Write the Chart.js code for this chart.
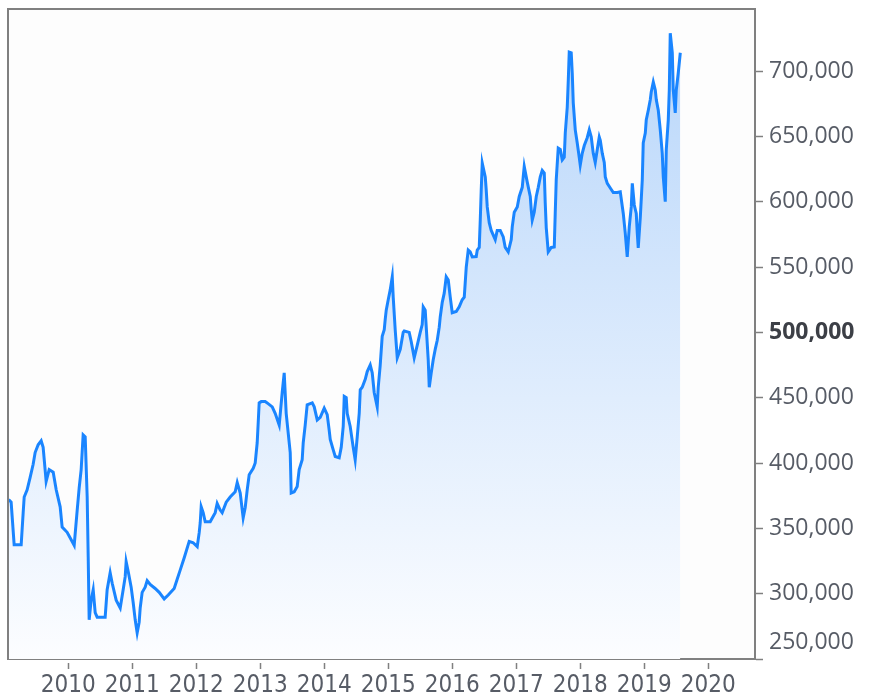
<!DOCTYPE html>
<html>
<head>
<meta charset="utf-8">
<script src="https://cdn.jsdelivr.net/npm/chart.js@4.4.1/dist/chart.umd.min.js"></script>
<style>
html,body{margin:0;padding:0;background:#ffffff;}
#wrap{width:869px;height:696px;position:relative;}
</style>
</head>
<body>
<div id="wrap"><canvas id="c"></canvas></div>
<script>
// decimal-year dates of the traced series
const dates = [
2009.070,2009.109,2009.125,2009.156,2009.266,2009.297,2009.313,2009.359,2009.406,2009.453,
2009.484,2009.531,2009.578,2009.609,2009.656,2009.703,2009.766,2009.813,2009.875,2009.906,
2009.984,2010.094,2010.141,2010.172,2010.203,2010.234,2010.266,2010.297,2010.313,2010.328,
2010.359,2010.391,2010.422,2010.453,2010.578,2010.609,2010.656,2010.688,2010.750,2010.813,
2010.859,2010.891,2010.906,2010.938,2010.984,2011.016,2011.047,2011.078,2011.109,2011.125,
2011.156,2011.203,2011.234,2011.281,2011.359,2011.422,2011.500,2011.563,2011.656,2011.703,
2011.750,2011.813,2011.891,2011.953,2012.016,2012.047,2012.063,2012.078,2012.109,2012.141,
2012.219,2012.297,2012.328,2012.375,2012.406,2012.469,2012.531,2012.609,2012.641,2012.688,
2012.734,2012.766,2012.797,2012.828,2012.891,2012.922,2012.953,2012.969,2012.984,2013.016,
2013.078,2013.109,2013.188,2013.234,2013.297,2013.344,2013.375,2013.406,2013.469,2013.484,
2013.531,2013.578,2013.609,2013.656,2013.672,2013.703,2013.734,2013.813,2013.844,2013.891,
2013.938,2014.000,2014.047,2014.078,2014.094,2014.141,2014.172,2014.234,2014.266,2014.297,
2014.313,2014.344,2014.359,2014.406,2014.453,2014.484,2014.516,2014.547,2014.563,2014.594,
2014.641,2014.672,2014.719,2014.750,2014.781,2014.828,2014.844,2014.875,2014.906,2014.938,
2014.953,2014.969,2015.000,2015.031,2015.063,2015.078,2015.109,2015.141,2015.188,2015.234,
2015.250,2015.328,2015.359,2015.406,2015.453,2015.500,2015.531,2015.547,2015.578,2015.594,
2015.625,2015.641,2015.672,2015.703,2015.734,2015.766,2015.797,2015.813,2015.844,2015.875,
2015.906,2015.938,2015.969,2016.000,2016.063,2016.109,2016.156,2016.188,2016.203,2016.219,
2016.250,2016.281,2016.313,2016.375,2016.391,2016.422,2016.438,2016.453,2016.469,2016.516,
2016.531,2016.547,2016.578,2016.609,2016.641,2016.672,2016.703,2016.750,2016.797,2016.828,
2016.875,2016.922,2016.938,2016.969,2017.016,2017.047,2017.094,2017.109,2017.125,2017.172,
2017.219,2017.234,2017.250,2017.281,2017.313,2017.344,2017.375,2017.406,2017.438,2017.453,
2017.469,2017.500,2017.547,2017.594,2017.609,2017.625,2017.656,2017.688,2017.719,2017.750,
2017.766,2017.797,2017.813,2017.828,2017.859,2017.875,2017.891,2017.922,2017.953,2017.984,
2018.000,2018.031,2018.063,2018.109,2018.141,2018.172,2018.203,2018.234,2018.266,2018.297,
2018.313,2018.344,2018.375,2018.391,2018.422,2018.469,2018.516,2018.578,2018.625,2018.672,
2018.703,2018.734,2018.766,2018.797,2018.813,2018.844,2018.875,2018.891,2018.906,2018.938,
2018.969,2018.984,2019.016,2019.031,2019.063,2019.094,2019.109,2019.141,2019.172,2019.188,
2019.219,2019.250,2019.281,2019.297,2019.328,2019.344,2019.375,2019.391,2019.406,2019.438,
2019.453,2019.484,2019.500,2019.531,2019.563
];

const values = [
372000,370000,359000,337500,337500,362000,374000,379500,389000,399000,
408000,414000,417000,412000,386000,395000,393000,379500,366500,351000,
347000,337000,364000,381000,395000,421500,420000,374000,328000,280000,
295000,303000,285500,282000,282000,303000,316000,308000,295000,289000,
303000,313000,324500,317000,305000,293000,280000,270000,278000,289000,
301000,305000,310000,307000,304000,301000,296000,299000,304000,311000,
318000,327500,340000,339000,336000,346700,354300,366500,362000,355000,
355000,362000,369000,364000,362000,370000,374000,378000,385000,377000,
358000,366000,379500,391000,396000,400000,415500,431000,446000,447000,
447000,446000,443000,438000,429000,454000,469000,438000,408000,377000,
378000,382000,395000,402500,415500,429000,444600,446000,443000,433000,
435000,442000,437000,425000,418000,410000,405000,404000,412000,428000,
451000,450000,438000,428000,412000,402500,420000,438000,456000,458000,
464000,470000,475000,469000,454000,443000,458000,475000,497000,502000,
510000,517000,525000,532500,542500,527000,502000,480500,487000,500000,
501000,500000,493000,480500,490000,500000,506000,519500,517000,504000,
479000,458000,469000,479000,487000,494000,504000,512000,523000,530000,
542500,540000,527000,515000,516000,519500,525000,527000,538000,550000,
563000,561600,557700,558000,563000,565000,586000,609000,629600,619000,
609000,596000,584000,578000,574500,571000,578000,578000,573000,565000,
561600,571000,581000,592000,596000,604000,611000,619000,627000,615000,
604000,594000,586000,592000,604000,611000,619000,624000,622000,599000,
580000,561600,565000,565400,591000,617000,641000,640000,632000,634000,
652600,672500,693000,714500,714000,698500,675500,655000,645000,634000,
628000,637000,643000,649000,655000,649500,637000,630000,640000,649500,
647000,637000,630000,619000,614000,610500,607000,607000,607500,591000,
576000,557700,581000,596000,614000,597500,591000,576000,564600,588000,
616600,645000,652600,662500,670000,678000,684000,691600,685500,678000,
670000,655000,637000,619000,600000,640000,662500,685500,729000,714000,
685500,668000,685500,698500,714000
];

const yearTicks = [2010,2011,2012,2013,2014,2015,2016,2017,2018,2019,2020];
const valueTicks = [250000,300000,350000,400000,450000,500000,550000,600000,650000,700000];
const highlightedValue = 500000;

const xRange = [2009.06, 2020.73];
const yRange = [250000, 747500];

const points = dates.map((d, i) => ({x: d, y: values[i]}));

const AXIS_GRAY = '#808080';
const TEXT_GRAY = '#575c66';

const framePlugin = {
  id: 'frame',
  beforeDraw(chart) {
    const {ctx, chartArea: a} = chart;
    ctx.save();
    ctx.fillStyle = '#fdfdfd';
    ctx.fillRect(a.left, a.top, a.right - a.left, a.bottom - a.top);
    ctx.restore();
  },
  afterDraw(chart) {
    const {ctx, chartArea: a} = chart;
    ctx.save();
    ctx.strokeStyle = AXIS_GRAY;
    ctx.lineWidth = 2;
    ctx.beginPath();
    ctx.moveTo(a.left, a.bottom);
    ctx.lineTo(a.left, a.top);
    ctx.lineTo(a.right, a.top);
    ctx.stroke();
    ctx.restore();
  }
};

new Chart(document.getElementById('c'), {
  type: 'line',
  data: {
    datasets: [{
      data: points,
      borderColor: '#1a85ff',
      borderWidth: 3,
      pointRadius: 0,
      tension: 0,
      fill: 'start',
      backgroundColor: (c) => {
        const a = c.chart.chartArea;
        if (!a) return 'rgba(200,225,250,0.6)';
        const g = c.chart.ctx.createLinearGradient(0, a.top, 0, a.bottom);
        g.addColorStop(0, 'rgb(182,213,250)');
        g.addColorStop(1, 'rgb(252,253,255)');
        return g;
      }
    }]
  },
  options: {
    responsive: true,
    maintainAspectRatio: false,
    animation: false,
    devicePixelRatio: 1,
    layout: {padding: {left: 8, top: 9, right: 0, bottom: 0}},
    plugins: {legend: {display: false}, tooltip: {enabled: false}},
    scales: {
      x: {
        type: 'linear',
        position: 'bottom',
        min: xRange[0],
        max: xRange[1],
        afterBuildTicks: (s) => { s.ticks = yearTicks.map(v => ({value: v})); },
        afterFit: (s) => { s.height = 37; s.paddingLeft = 0; s.paddingRight = 0; },
        border: {display: true, color: AXIS_GRAY, width: 2},
        grid: {
          drawOnChartArea: false, drawTicks: true, tickLength: 10,
          tickColor: AXIS_GRAY, tickWidth: 1.5, tickBorderDash: [0, 3, 6, 60]
        },
        ticks: {
          autoSkip: false, maxRotation: 0, padding: 2,
          color: TEXT_GRAY,
          font: {family: "'Liberation Sans Narrow', 'DejaVu Sans Condensed', 'Open Sans', sans-serif", size: 24},
          callback: (v) => String(v)
        }
      },
      y: {
        type: 'linear',
        position: 'right',
        min: yRange[0],
        max: yRange[1],
        afterBuildTicks: (s) => { s.ticks = valueTicks.map(v => ({value: v})); },
        afterFit: (s) => { s.width = 114; s.paddingTop = 0; s.paddingBottom = 0; },
        border: {display: true, color: AXIS_GRAY, width: 2},
        grid: {drawOnChartArea: false, drawTicks: true, tickLength: 8, tickColor: AXIS_GRAY, tickWidth: 1.5},
        ticks: {
          autoSkip: false,
          padding: 6,
          color: (c) => c.tick && c.tick.value === highlightedValue ? '#3c3f46' : TEXT_GRAY,
          font: (c) => {
            const v = c.tick ? c.tick.value : null;
            const f = {family: "'Open Sans', sans-serif", size: 23};
            if (v === highlightedValue) f.weight = 'bold';
            if (v === valueTicks[0]) f.lineHeight = '34px';
            return f;
          },
          callback: (v) => {
            const s = Number(v).toLocaleString('en-US');
            return v === valueTicks[0] ? [s, ''] : s;
          }
        }
      }
    }
  },
  plugins: [framePlugin]
});
</script>
</body>
</html>
